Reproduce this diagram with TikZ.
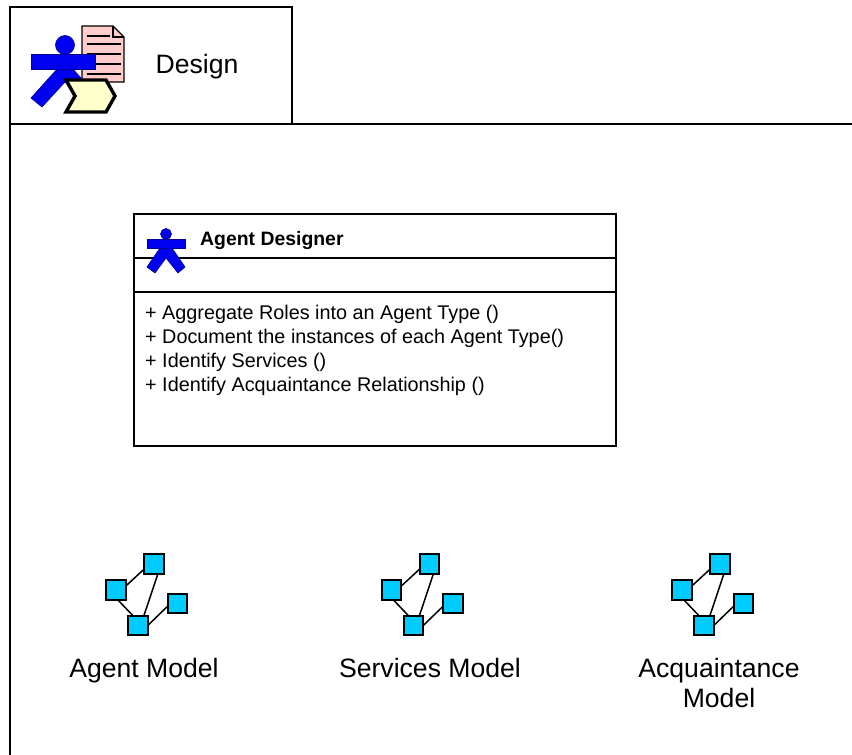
\documentclass[tikz,border=0pt]{standalone}
\usepackage{fontspec}
\setmainfont{Liberation Sans}
\tikzset{
  line/.style={draw=black,line width=1.3pt},
  sq/.style={draw=black,line width=1.7pt,fill={rgb,255:red,0;green,204;blue,255},minimum size=19.5pt,inner sep=0pt,outer sep=0pt},
  link/.style={draw=black,line width=1.5pt},
  agentblue/.style={fill={rgb,255:red,0;green,0;blue,240},draw={rgb,255:red,0;green,0;blue,150},line width=0.6pt},
  big/.style={font=\fontsize{26.6}{30}\selectfont,align=center,inner sep=0pt},
  listtext/.style={font=\fontsize{19.8}{24.3}\selectfont,align=left,anchor=north west,inner sep=0pt},
  model/.pic={
    \node[sq] (-a) at (116,590) {};
    \node[sq] (-b) at (154,564) {};
    \node[sq] (-c) at (138,625.5) {};
    \node[sq] (-d) at (177.5,603.5) {};
    \draw[link] (-a.22) -- (-b.207);
    \draw[link] (-a.280) -- (-c.117);
    \draw[link] (-b.292) -- (-c.59);
    \draw[link] (-c.0) -- (-d.195);
  }
}
\begin{document}
\begin{tikzpicture}[x=1pt,y=-1pt]
\useasboundingbox (0,0) rectangle (852,755);
% frame
\draw[line] (10,755) -- (10,7) -- (292,7) -- (292,124);
\draw[line] (10,124) -- (852,124);
% design icon
\draw[line width=1.2pt,fill={rgb,255:red,255;green,204;blue,204}] (82,26) -- (113,26) -- (124,37) -- (124,82) -- (82,82) -- cycle;
\draw[line width=1.2pt] (113,26) -- (113,37) -- (124,37);
\foreach \y/\a/\b in {36/87/110,44/87/121,54/87/121,64/87/121,74/87/121}
  \draw[line width=1.2pt] (\a,\y) -- (\b,\y);
\draw[agentblue] (58,68) -- (31,98) -- (42,107) -- (65,82) -- (88,107) -- (99,98) -- (72,68) -- cycle;
\draw[agentblue] (31,54) rectangle (95,69);
\draw[agentblue] (65,45) circle (9.5);
\draw[line width=3.4pt,line join=miter,fill={rgb,255:red,255;green,255;blue,204}] (66,80) -- (106,80) -- (115,96) -- (106,112) -- (66,112) -- (75,96) -- cycle;
\node[big,anchor=base] (design) at (197,73) {Design};
% class box
\node[draw=black,line width=1.3pt,minimum width=482pt,minimum height=232pt,inner sep=0pt,outer sep=0pt] (cls) at (375,330) {};
\coordinate (h1l) at (134,258); \coordinate (h1r) at (616,258);
\coordinate (h2l) at (134,292); \coordinate (h2r) at (616,292);
\draw[line] (h1l) -- (h1r);
\draw[line] (h2l) -- (h2r);
% small agent
\draw[agentblue] (160,248) -- (147,267) -- (155,273) -- (166,258) -- (178,273) -- (185,267) -- (172,248) -- cycle;
\draw[agentblue] (147.5,239.5) rectangle (185,248.5);
\draw[agentblue] (166,234) circle (5.5);
\node[font=\bfseries\fontsize{19.4}{22}\selectfont,anchor=west,inner sep=0pt] (name) at (200,241) {Agent Designer};
\node[listtext] (ops) at (145,304.5) {+ Aggregate Roles into an Agent Type ()\\+ Document the instances of each Agent Type()\\+ Identify Services ()\\+ Identify Acquaintance Relationship ()};
% models
\pic (m1) at (0,0) {model};
\pic (m2) at (275.5,0) {model};
\pic (m3) at (566,0) {model};
\node[big,anchor=base] (t1) at (144,677) {Agent Model};
\node[big,anchor=base] (t2) at (430,677) {Services Model};
\node[big,anchor=base] (t3) at (719,677) {Acquaintance};
\node[big,anchor=base] (t4) at (719,707) {Model};
\end{tikzpicture}
\end{document}
